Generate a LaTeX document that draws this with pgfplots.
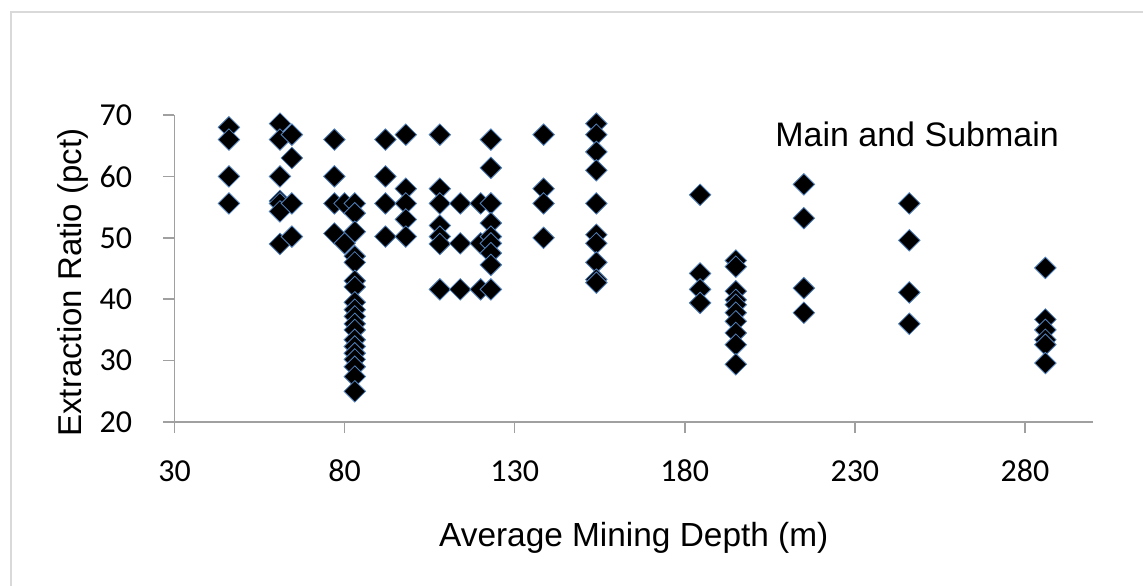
\documentclass[border=0pt]{standalone}
\usepackage{pgfplots}
\pgfplotsset{compat=1.18}
\usepackage{fontspec}
\setmainfont{Liberation Sans}
\newfontfamily\calibri{Carlito}
\definecolor{axgray}{RGB}{160,160,160}
\definecolor{framegray}{RGB}{217,217,217}
\definecolor{edgeblue}{RGB}{79,129,189}
\begin{document}
\begin{tikzpicture}
\useasboundingbox (-87.25pt,-81.5pt) rectangle (484.25pt,211pt);
\draw[framegray, line width=1pt] (-81.75pt,-82pt) -- (-81.75pt,205pt) -- (485pt,205pt);
\begin{axis}[
  at={(0,0)}, anchor=south west,
  scale only axis, width=459.25pt, height=153.5pt,
  xmin=30, xmax=300, ymin=20, ymax=70,
  axis x line=bottom, axis y line=left,
  x axis line style={-}, y axis line style={-},
  axis line style={axgray, line width=0.8pt},
  tick align=outside,
  major tick length=5.5pt,
  tick style={axgray, line width=0.8pt},
  xtick={30,80,130,180,230,280}, ytick={20,30,40,50,60,70},
  xticklabels={30,80,130,180,230,280},
  yticklabels={20,30,40,50,60,70},
  minor tick num=0,
  /pgf/number format/assume math mode=true,
  tick label style={font={\fontsize{16}{16}\selectfont\calibri}},
  xticklabel style={anchor=center, yshift=-19pt},
  yticklabel style={anchor=east, inner sep=0pt, xshift=-15.5pt},
  xlabel={Average Mining Depth (m)},
  ylabel={Extraction Ratio (pct)},
  xlabel style={font=\fontsize{16.7}{16.7}\selectfont, at={(axis description cs:0.5,-0.4062)}, anchor=base},
  ylabel style={font=\fontsize{16.5}{16.5}\selectfont, at={(axis description cs:-0.1105,0.4545)}, anchor=center},
  clip=false,
]
\addplot[only marks, mark=square*, mark size=3.8pt,
  mark options={rotate=45, fill=black, draw=edgeblue, line width=0.4pt}]
  table[row sep=\\] {
x y \\
46 68 \\ 46 66 \\ 46 60 \\ 46 55.6 \\
61 68.6 \\ 61 66 \\ 61 60 \\ 61 56 \\ 61 55.6 \\ 61 54.3 \\ 61 49 \\
64.5 66.8 \\ 64.5 63 \\ 64.5 55.6 \\ 64.5 50.2 \\
77 66 \\ 77 60 \\ 77 55.6 \\ 77 50.7 \\
80 55.6 \\ 80 49.1 \\
83 55.6 \\ 83 54 \\ 83 51 \\ 83 47 \\ 83 46 \\ 83 43 \\ 83 42 \\ 83 39.5 \\ 83 38.3 \\ 83 37.2 \\ 83 36 \\ 83 35 \\ 83 33.4 \\ 83 32.3 \\ 83 31.2 \\ 83 30.2 \\ 83 29 \\ 83 27.4 \\ 83 25 \\
92 66 \\ 92 60 \\ 92 55.6 \\ 92 50.2 \\
98 66.8 \\ 98 58 \\ 98 55.6 \\ 98 53 \\ 98 50.2 \\
108 66.8 \\ 108 58 \\ 108 55.6 \\ 108 52 \\ 108 50.2 \\ 108 49 \\ 108 41.6 \\
114 55.6 \\ 114 49.1 \\ 114 41.6 \\
120 55.6 \\ 120 49.1 \\ 120 41.6 \\
123 66 \\ 123 61.4 \\ 123 55.6 \\ 123 52.4 \\ 123 50.2 \\ 123 49.1 \\ 123 47.5 \\ 123 45.6 \\ 123 41.6 \\
138.5 66.8 \\ 138.5 58 \\ 138.5 55.6 \\ 138.5 50 \\
154 68.6 \\ 154 66.8 \\ 154 64 \\ 154 61 \\ 154 55.6 \\ 154 50.5 \\ 154 49.1 \\ 154 46 \\ 154 43.2 \\ 154 42.7 \\
184.5 57 \\ 184.5 44.2 \\ 184.5 41.6 \\ 184.5 39.4 \\
195 46.3 \\ 195 45.3 \\ 195 41.3 \\ 195 39.9 \\ 195 39.1 \\ 195 37.8 \\ 195 36.4 \\ 195 34.5 \\ 195 32.6 \\ 195 29.4 \\
215 58.7 \\ 215 53.2 \\ 215 41.8 \\ 215 37.8 \\
246 55.6 \\ 246 49.6 \\ 246 41.1 \\ 246 36 \\
286 45.1 \\ 286 36.7 \\ 286 35 \\ 286 33.4 \\ 286 32.6 \\ 286 29.6 \\
};
\node[anchor=base west, inner sep=0pt, font=\fontsize{17}{17}\selectfont] at (axis cs:206.5,64.8) {Main and Submain};
\end{axis}
\end{tikzpicture}
\end{document}
